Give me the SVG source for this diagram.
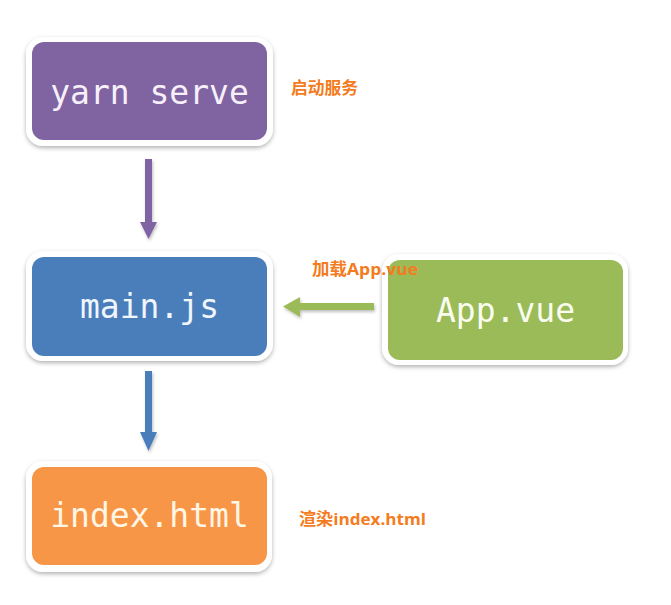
<svg xmlns="http://www.w3.org/2000/svg" width="671" height="605" viewBox="0 0 671 605">
<defs>
<filter id="sh" x="-10%" y="-10%" width="120%" height="130%">
<feDropShadow dx="0" dy="2" stdDeviation="2" flood-color="#000" flood-opacity="0.3"/>
</filter>
<filter id="ash" x="-50%" y="-20%" width="200%" height="140%">
<feDropShadow dx="1" dy="2" stdDeviation="1.5" flood-color="#000" flood-opacity="0.25"/>
</filter>
</defs>
<style>
.frame{fill:#fff;filter:url(#sh)}
.t{font-family:"DejaVu Sans Mono","Liberation Mono",monospace;font-size:33px;text-anchor:middle}
.lbl{font-family:"Open Sans","Noto Sans CJK SC",sans-serif;font-weight:bold;font-size:16.5px;fill:#F47B20}
</style>
<rect width="671" height="605" fill="#fff"/>
<g id="connectors" filter="url(#ash)">
<path d="M145,159 H152 V222 H157 L148.5,239 L140,222 H145 Z" fill="#8064A2"/>
<path d="M145,371 H152 V432 H157 L148.5,451 L140,432 H145 Z" fill="#4A7EBB"/>
<path d="M374,303 V310 H300 V317 L283,306.5 L300,297 V303 Z" fill="#9BBB59"/>
</g>
<g id="yarn-serve">
<rect class="frame" x="26" y="37" width="247" height="109" rx="17"/>
<rect x="32" y="42" width="235" height="98" rx="12" fill="#8064A2"/>
<text class="t" x="149.5" y="104" fill="#F7F0FA">yarn serve</text>
</g>
<g id="main-js">
<rect class="frame" x="26" y="251" width="247" height="110" rx="17"/>
<rect x="32" y="257" width="235" height="99" rx="12" fill="#4A7EBB"/>
<text class="t" x="149.5" y="318" fill="#F0F6FC">main.js</text>
</g>
<g id="app-vue">
<rect class="frame" x="382" y="254" width="246" height="111" rx="17"/>
<rect x="388" y="260" width="235" height="100" rx="12" fill="#9BBB59"/>
<text class="t" x="505.5" y="322" fill="#F9FCEE">App.vue</text>
</g>
<g id="index-html">
<rect class="frame" x="26" y="461" width="246" height="111" rx="17"/>
<rect x="32" y="467" width="235" height="98" rx="12" fill="#F79646"/>
<text class="t" x="149.5" y="527" fill="#FFF6E6">index.html</text>
</g>
<text class="lbl" x="291" y="94" textLength="67" lengthAdjust="spacingAndGlyphs">启动服务</text>
<text class="lbl" x="312" y="275" textLength="106" lengthAdjust="spacingAndGlyphs">加载App.vue</text>
<text class="lbl" x="299" y="525" textLength="127" lengthAdjust="spacingAndGlyphs">渲染index.html</text>
</svg>
